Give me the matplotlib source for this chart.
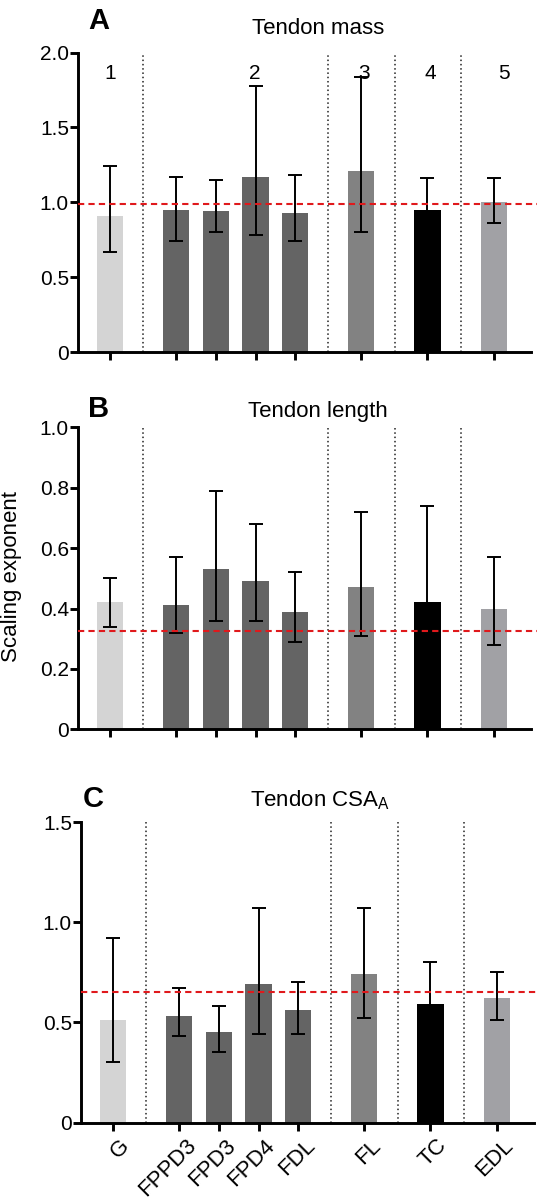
import matplotlib
matplotlib.use("Agg")
import matplotlib.pyplot as plt
import matplotlib.transforms as mtransforms
import numpy as np

plt.rcParams["font.family"] = ["Liberation Sans", "DejaVu Sans"]

# -----------------------------------------------------------------------
# Data (scaling exponents with 95% CI)
# -----------------------------------------------------------------------
muscles = ["G", "FPPD3", "FPD3", "FPD4", "FDL", "FL", "TC", "EDL"]
positions = [0, 1.667, 2.667, 3.667, 4.667, 6.333, 8.0, 9.667]
separators = [0.84, 5.5, 7.18, 8.84]
group_labels = ["1", "2", "3", "4", "5"]
group_label_x = [0, 3.65, 6.39, 8.07, 9.93]
bar_colours = ["#d4d4d4", "#646464", "#646464", "#646464", "#646464",
               "#828282", "#000000", "#a1a1a5"]

mass_exp = [0.91, 0.95, 0.94, 1.17, 0.93, 1.21, 0.95, 1.00]
mass_lo = [0.67, 0.74, 0.80, 0.78, 0.74, 0.80, 0.74, 0.86]
mass_hi = [1.24, 1.17, 1.15, 1.78, 1.18, 1.84, 1.16, 1.16]
mass_ref = 0.99

length_exp = [0.42, 0.41, 0.53, 0.49, 0.39, 0.47, 0.42, 0.40]
length_lo = [0.34, 0.32, 0.36, 0.36, 0.29, 0.31, 0.30, 0.28]
length_hi = [0.50, 0.57, 0.79, 0.68, 0.52, 0.72, 0.74, 0.57]
length_ref = 0.325

csa_exp = [0.51, 0.53, 0.45, 0.69, 0.56, 0.74, 0.59, 0.62]
csa_lo = [0.30, 0.43, 0.35, 0.44, 0.44, 0.52, 0.45, 0.51]
csa_hi = [0.92, 0.67, 0.58, 1.07, 0.70, 1.07, 0.80, 0.75]
csa_ref = 0.65

W, H = 539, 1201
LABEL_SIZE = 15


def px_axes(fig, left, top, bottom, width=459):
    # pixel box (from top-left of the image) -> figure fraction
    return fig.add_axes([left / W, 1 - bottom / H, width / W, (bottom - top) / H])


def draw_panel(fig, ax, vals, lo, hi, ref, ymax, yticks, yticklabels,
               title, title_xy, letter, letter_xy):
    vals = np.array(vals)
    yerr = [vals - np.array(lo), np.array(hi) - vals]
    ax.bar(positions, vals, width=0.66, color=bar_colours, zorder=2)
    ax.errorbar(positions, vals, yerr=yerr, fmt="none", ecolor="black",
                elinewidth=1.4, capsize=4.7, capthick=1.4, zorder=3)
    for s in separators:
        ax.axvline(s, color="#222222", linestyle=(0, (1, 1.8)), linewidth=1.1, zorder=1)
    ax.axhline(ref, color="#e0191c", linestyle=(0, (3, 2)), linewidth=1.5, zorder=4)

    ax.set_xlim(-0.806, 10.76)
    ax.set_ylim(0, ymax)
    ax.set_yticks(yticks)
    ax.set_yticklabels(yticklabels)
    ax.set_xticks(positions)
    ax.set_xticklabels([])
    ax.spines["top"].set_visible(False)
    ax.spines["right"].set_visible(False)
    ax.spines["left"].set_linewidth(2.1)
    ax.spines["bottom"].set_linewidth(2.1)
    ax.spines["bottom"].set_bounds(-0.806, 10.6)
    ax.tick_params(axis="both", width=2.1, length=5.5, labelsize=LABEL_SIZE,
                   direction="out")
    ax.tick_params(axis="y", pad=1)
    fig.text(title_xy[0] / W, 1 - title_xy[1] / H, title, fontsize=16,
             ha="center", va="baseline")
    fig.text(letter_xy[0] / W, 1 - letter_xy[1] / H, letter, fontsize=21,
             fontweight="bold", ha="center", va="baseline")


fig = plt.figure(figsize=(W / 100, H / 100), dpi=100)

ax_a = px_axes(fig, 78, 52.5, 352.5)
ax_b = px_axes(fig, 78, 427.3, 729.3)
ax_c = px_axes(fig, 81, 822.3, 1122.5)

draw_panel(fig, ax_a, mass_exp, mass_lo, mass_hi, mass_ref, 2.0,
           [0, 0.5, 1.0, 1.5, 2.0], ["0", "0.5", "1.0", "1.5", "2.0"],
           "Tendon mass", (318, 33.5), "A", (98.5, 29))
for lab, xc in zip(group_labels, group_label_x):
    ax_a.text(xc, 1.86, lab, fontsize=LABEL_SIZE, ha="center", va="center")

draw_panel(fig, ax_b, length_exp, length_lo, length_hi, length_ref, 1.0,
           [0, 0.2, 0.4, 0.6, 0.8, 1.0], ["0", "0.2", "0.4", "0.6", "0.8", "1.0"],
           "Tendon length", (318, 417), "B", (99, 417))

draw_panel(fig, ax_c, csa_exp, csa_lo, csa_hi, csa_ref, 1.5,
           [0, 0.5, 1.0, 1.5], ["0", "0.5", "1.0", "1.5"],
           r"Tendon CSA$_\mathregular{A}$", (320, 806.7), "C", (93, 807))
ax_c.set_xticklabels(muscles, rotation=45, ha="right", rotation_mode="anchor",
                     fontsize=16)
shift = mtransforms.ScaledTranslation(6 / 100, 0, fig.dpi_scale_trans)
for lbl in ax_c.get_xticklabels():
    lbl.set_transform(lbl.get_transform() + shift)

fig.text(11.5 / W, 1 - 577 / H, "Scaling exponent", rotation=90, fontsize=16,
         ha="center", va="center")

fig.savefig("out.png", dpi=100)
